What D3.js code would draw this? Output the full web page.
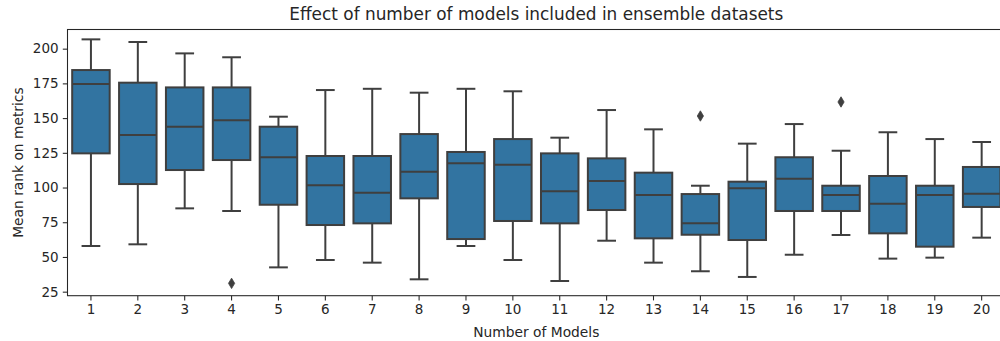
<!DOCTYPE html>
<html>
<head>
<meta charset="utf-8">
<script src="https://cdn.jsdelivr.net/npm/d3@7"></script>
<style>
  html, body { margin: 0; padding: 0; background: #fff; }
  svg { display: block; font-family: "DejaVu Sans", sans-serif; }
</style>
</head>
<body>
<svg id="chart" width="1000" height="341"></svg>
<script>
// Box statistics per ensemble size (mean rank on metrics)
const categories = ["1","2","3","4","5","6","7","8","9","10","11","12","13","14","15","16","17","18","19","20"];
const whiskerLow  = [57.9, 59.1, 85.0, 83.1, 42.5, 47.8, 45.9, 33.9, 57.9, 47.8, 32.7, 61.7, 45.9, 39.7, 35.6, 51.6, 65.8, 48.8, 49.5, 63.9];
const q1          = [124.6, 102.5, 112.6, 119.8, 87.6, 73.0, 74.2, 92.2, 62.9, 75.9, 74.2, 83.8, 63.4, 66.0, 62.2, 83.1, 83.1, 67.0, 57.4, 86.0];
const medians     = [174.5, 137.8, 143.8, 148.4, 121.8, 101.6, 96.3, 111.4, 117.4, 116.4, 97.3, 104.7, 94.6, 74.2, 99.4, 106.4, 94.6, 88.4, 94.6, 95.6];
const q3          = [184.6, 175.5, 172.1, 172.1, 143.8, 122.7, 122.7, 138.5, 125.6, 134.9, 124.6, 121.0, 110.7, 95.3, 104.2, 121.8, 101.3, 108.3, 101.3, 114.8];
const whiskerHigh = [206.7, 204.8, 196.6, 193.8, 151.0, 170.2, 171.1, 168.3, 171.1, 169.3, 135.9, 155.8, 141.9, 101.3, 131.6, 145.7, 126.5, 139.8, 134.9, 132.8];
const outlierCats   = ["4", "14", "17"];
const outlierValues = [31.0, 151.5, 161.6];
const yTicks = [25, 50, 75, 100, 125, 150, 175, 200];

const boxes = categories.map((c, i) => ({
  cat: c, lo: whiskerLow[i], q1: q1[i], med: medians[i], q3: q3[i], hi: whiskerHigh[i]
}));
const fliers = outlierCats.map((c, i) => ({ cat: c, value: outlierValues[i] }));

const svg = d3.select("#chart");
const plotLeft = 67.5, plotRight = 1005.1, plotTop = 29.5, plotBottom = 295.7;

const x = d3.scaleBand().domain(categories).range([plotLeft, plotRight]).padding(0);
const y = d3.scaleLinear().domain([22.1, 213.8]).range([plotBottom, plotTop]);

const lineColor = "#3f3f3f";
const fillColor = "#3274a1";
const bw = x.bandwidth();
const boxW = bw * 0.8;
const capW = bw * 0.4;

// Axes
const gx = svg.append("g")
  .attr("transform", `translate(0,${plotBottom})`)
  .call(d3.axisBottom(x).tickSize(4.7).tickPadding(4.2));
const gy = svg.append("g")
  .attr("transform", `translate(${plotLeft},0)`)
  .call(d3.axisLeft(y).tickValues(yTicks).tickSize(4.7).tickPadding(4.2));

[gx, gy].forEach(g => {
  g.select(".domain").remove();
  g.selectAll(".tick line").attr("stroke", "#262626").attr("stroke-width", 1.07);
  g.selectAll(".tick text").attr("fill", "#262626").style("font-size", "13.5px").style("font-family", "DejaVu Sans");
});

// Frame
svg.append("rect")
  .attr("x", plotLeft).attr("y", plotTop)
  .attr("width", plotRight - plotLeft).attr("height", plotBottom - plotTop)
  .attr("fill", "none").attr("stroke", "#262626").attr("stroke-width", 1.07);

const g = svg.append("g");

const box = g.selectAll("g.box").data(boxes).join("g").attr("class", "box");
const cx = d => x(d.cat) + bw / 2;

// Whiskers
box.append("line")
  .attr("x1", cx).attr("x2", cx)
  .attr("y1", d => y(d.q1)).attr("y2", d => y(d.lo))
  .attr("stroke", lineColor).attr("stroke-width", 2);
box.append("line")
  .attr("x1", cx).attr("x2", cx)
  .attr("y1", d => y(d.q3)).attr("y2", d => y(d.hi))
  .attr("stroke", lineColor).attr("stroke-width", 2);
// Caps
box.append("line")
  .attr("x1", d => cx(d) - capW / 2).attr("x2", d => cx(d) + capW / 2)
  .attr("y1", d => y(d.lo)).attr("y2", d => y(d.lo))
  .attr("stroke", lineColor).attr("stroke-width", 2);
box.append("line")
  .attr("x1", d => cx(d) - capW / 2).attr("x2", d => cx(d) + capW / 2)
  .attr("y1", d => y(d.hi)).attr("y2", d => y(d.hi))
  .attr("stroke", lineColor).attr("stroke-width", 2);
// Boxes
box.append("rect")
  .attr("x", d => cx(d) - boxW / 2)
  .attr("width", boxW)
  .attr("y", d => y(d.q3))
  .attr("height", d => y(d.q1) - y(d.q3))
  .attr("fill", fillColor)
  .attr("stroke", lineColor).attr("stroke-width", 2);
// Medians
box.append("line")
  .attr("x1", d => cx(d) - boxW / 2).attr("x2", d => cx(d) + boxW / 2)
  .attr("y1", d => y(d.med)).attr("y2", d => y(d.med))
  .attr("stroke", lineColor).attr("stroke-width", 2);

// Outliers as thin diamonds
const dh = 5.2, dw = 3.1;
g.selectAll("path.flier").data(fliers).join("path")
  .attr("class", "flier")
  .attr("transform", d => `translate(${x(d.cat) + bw / 2},${y(d.value)})`)
  .attr("d", `M0,${-dh}L${dw},0L0,${dh}L${-dw},0Z`)
  .attr("fill", lineColor).attr("stroke", lineColor).attr("stroke-width", 0.8);

// Labels
svg.append("text")
  .attr("x", (plotLeft + plotRight) / 2).attr("y", 19.5)
  .attr("text-anchor", "middle")
  .attr("fill", "#262626")
  .style("font-size", "16.9px")
  .text("Effect of number of models included in ensemble datasets");

svg.append("text")
  .attr("x", (plotLeft + plotRight) / 2).attr("y", 336.5)
  .attr("text-anchor", "middle")
  .attr("fill", "#262626")
  .style("font-size", "13.8px")
  .text("Number of Models");

svg.append("text")
  .attr("transform", `translate(23,${(plotTop + plotBottom) / 2}) rotate(-90)`)
  .attr("text-anchor", "middle")
  .attr("fill", "#262626")
  .style("font-size", "13.8px")
  .text("Mean rank on metrics");
</script>
</body>
</html>
